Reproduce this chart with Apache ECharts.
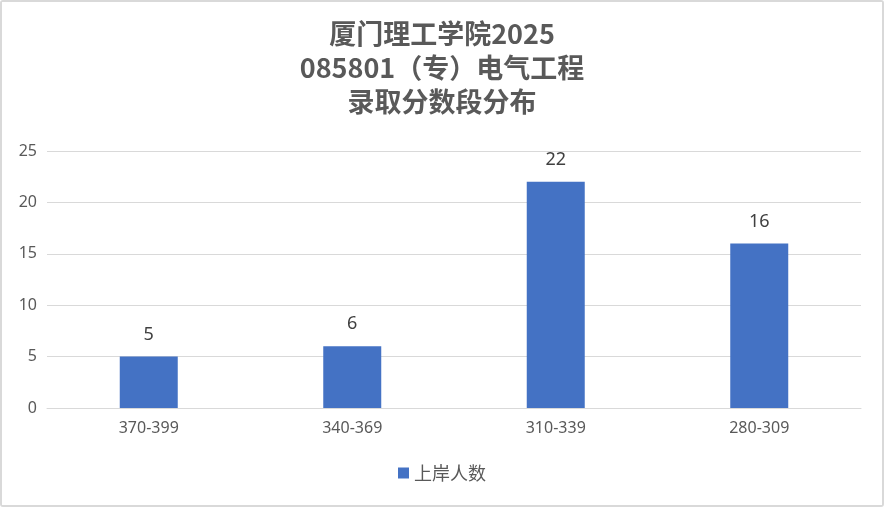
<!DOCTYPE html>
<html lang="zh" style="height: 100%">
  <head>
    <meta charset="utf-8" />
  </head>
  <body style="height: 100%; margin: 0">
    <div
      id="container"
      style="position: absolute; left: 0; top: 0; width: 880px; height: 503px; border: 2px solid #d9d9d9; border-radius: 3px"
    ></div>

    <script
      type="text/javascript"
      src="https://fastly.jsdelivr.net/npm/echarts@6.0.0/dist/echarts.min.js"
    ></script>
    <script type="text/javascript">
      const titleText = "厦门理工学院2025\n085801（专）电气工程\n录取分数段分布";
      const categories = ["370-399", "340-369", "310-339", "280-309"];
      const seriesName = "上岸人数";
      const counts = [5, 6, 22, 16];

      var dom = document.getElementById("container");
      var myChart = echarts.init(dom, null, { renderer: "canvas" });

      var option = {
        backgroundColor: "#ffffff",
        title: {
          text: titleText,
          left: "center",
          top: 10,
          textStyle: {
            fontFamily: "Noto Sans CJK SC",
            fontSize: 27,
            fontWeight: "bold",
            color: "#595959",
            lineHeight: 34,
          },
        },
        legend: {
          bottom: 18,
          left: "center",
          icon: "rect",
          itemWidth: 11,
          itemHeight: 11,
          itemGap: 10,
          textStyle: {
            fontFamily: "Noto Sans CJK SC",
            fontSize: 18,
            color: "#595959",
          },
        },
        grid: {
          left: 45,
          right: 21,
          top: 149,
          bottom: 97,
          containLabel: false,
        },
        xAxis: {
          type: "category",
          data: categories,
          axisLine: { lineStyle: { color: "#d9d9d9", width: 1 } },
          axisTick: { show: false },
          axisLabel: {
            color: "#595959",
            fontSize: 16,
            fontFamily: "Noto Sans",
            margin: 12,
          },
        },
        yAxis: {
          type: "value",
          min: 0,
          max: 25,
          interval: 5,
          axisLine: { show: false },
          axisTick: { show: false },
          axisLabel: {
            color: "#595959",
            fontSize: 16,
            fontFamily: "Noto Sans",
            margin: 10,
          },
          splitLine: { lineStyle: { color: "#d9d9d9", width: 1 } },
        },
        series: [
          {
            name: seriesName,
            type: "bar",
            data: counts,
            barWidth: "28.5%",
            itemStyle: { color: "#4472C4" },
            label: {
              show: true,
              position: "top",
              distance: 13,
              color: "#404040",
              fontSize: 18,
              fontFamily: "Noto Sans",
            },
          },
        ],
      };

      myChart.setOption(option);
      window.addEventListener("resize", myChart.resize);
    </script>
  </body>
</html>
